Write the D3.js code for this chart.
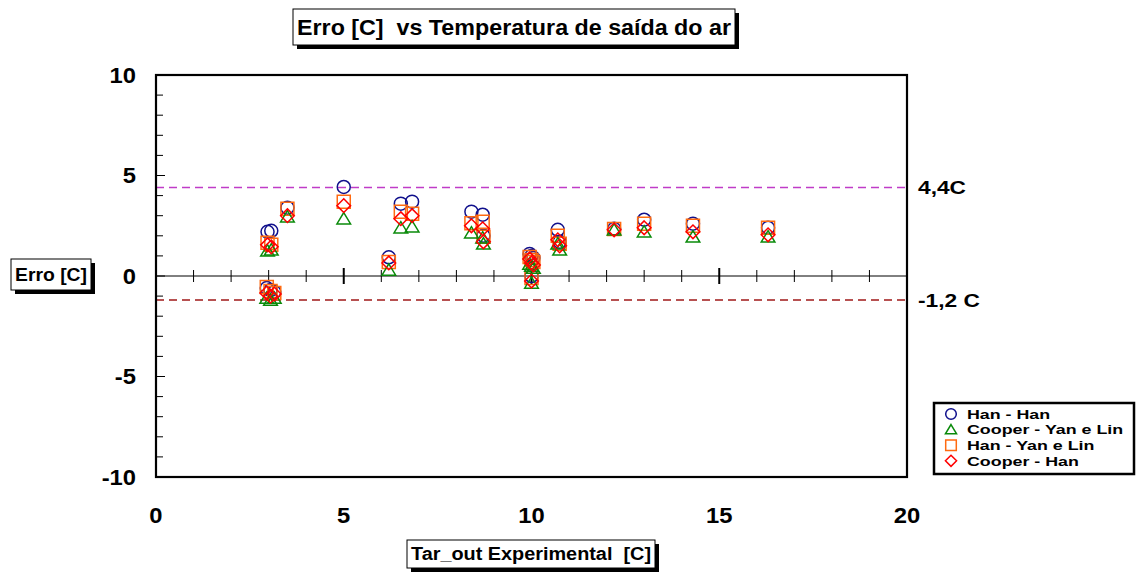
<!DOCTYPE html>
<html><head><meta charset="utf-8">
<script src="https://cdn.jsdelivr.net/npm/d3@7"></script>
<style>body{margin:0;background:#fff;} svg{display:block;font-family:"Liberation Sans",Arial,sans-serif;font-weight:bold;} text{white-space:pre;}</style>
</head><body>
<svg id="c" width="1138" height="572"></svg>
<script>
// ---- data ----
const xValues      = [2.97, 3.07, 2.95, 3.05, 3.15, 3.5, 5.0, 6.2, 6.52, 6.82, 8.4, 8.7, 8.72, 9.95, 10.0, 10.05, 10.0, 10.7, 10.75, 12.2, 13.0, 14.3, 16.3];
const hanHan       = [2.2, 2.25, -0.6, -0.7, -0.8, 3.4, 4.43, 0.93, 3.6, 3.7, 3.2, 3.05, 2.0, 1.1, 1.0, 0.9, 0.0, 2.3, 1.7, 2.35, 2.8, 2.6, 2.4];
const cooperYanLin = [1.25, 1.3, -1.1, -1.2, -1.1, 2.95, 2.85, 0.3, 2.4, 2.45, 2.15, 1.9, 1.6, 0.6, 0.5, 0.4, -0.35, 1.6, 1.3, 2.3, 2.2, 1.95, 1.95];
const hanYanLin    = [1.65, 1.55, -0.55, -0.75, -0.85, 3.35, 3.7, 0.7, 3.2, 3.1, 2.63, 2.7, 1.95, 0.95, 0.8, 0.7, -0.1, 2.0, 1.6, 2.34, 2.6, 2.5, 2.4];
const cooperHan    = [1.55, 1.45, -0.85, -1.0, -0.9, 3.0, 3.5, 0.65, 2.85, 3.0, 2.5, 2.35, 1.7, 0.85, 0.65, 0.55, -0.25, 1.8, 1.5, 2.3, 2.4, 2.2, 2.05];
const seriesNames  = ["Han - Han", "Cooper - Yan e Lin", "Han - Yan e Lin", "Cooper - Han"];
const xTicks = [0, 5, 10, 15, 20];
const yTicks = [-10, -5, 0, 5, 10];
const refLines = [4.4, -1.2];
const refLabels = ["4,4C", "-1,2 C"];
const titleText = "Erro [C]  vs Temperatura de saída do ar";
const xLabel = "Tar_out Experimental  [C]";
const yLabel = "Erro [C]";

// ---- layout ----
const svg = d3.select("#c");
const L = 156, R = 907, T = 75, B = 477;
const x = d3.scaleLinear().domain([0, 20]).range([L, R]);
const y = d3.scaleLinear().domain([-10, 10]).range([B, T]);

// custom marker shapes (s = half size)
const shapes = {
  circle: s => { const p = d3.path(); p.arc(0, 0, s, 0, 2 * Math.PI); return p.toString(); },
  triangle: s => `M0,${-s * 0.95}L${s * 1.05},${s * 0.8}L${-s * 1.05},${s * 0.8}Z`,
  square: s => `M${-s},${-s}H${s}V${s}H${-s}Z`,
  diamond: s => `M0,${-s * 1.05}L${s * 1.05},0L0,${s * 1.05}L${-s * 1.05},0Z`
};
const styles = [
  {shape: "circle", color: "#10108c", data: hanHan},
  {shape: "triangle", color: "#0a8a0a", data: cooperYanLin},
  {shape: "square", color: "#ff6a10", data: hanYanLin},
  {shape: "diamond", color: "#ff0000", data: cooperHan}
];

// stretch text horizontally by factor k
function stretch(sel, k) {
  sel.each(function () {
    const len = this.getComputedTextLength();
    d3.select(this).attr("textLength", len * k).attr("lengthAdjust", "spacingAndGlyphs");
  });
  return sel;
}

// boxed label helper
function box(x0, y0, w, h, text, fs, tw) {
  svg.append("rect").attr("x", x0 + 4).attr("y", y0 + 4).attr("width", w).attr("height", h).attr("fill", "#000");
  svg.append("rect").attr("x", x0).attr("y", y0).attr("width", w).attr("height", h).attr("fill", "#fff").attr("stroke", "#000").attr("stroke-width", 1);
  svg.append("text").attr("x", x0 + w / 2).attr("y", y0 + h / 2).attr("dy", "0.36em").attr("text-anchor", "middle")
    .attr("font-size", fs).attr("textLength", tw).attr("lengthAdjust", "spacingAndGlyphs").text(text);
}

// reference dashed lines
const refColors = ["#c03cc8", "#a01818"];
const refWidths = [48, 62];
refLines.forEach((v, i) => {
  svg.append("line").attr("x1", L).attr("x2", R).attr("y1", y(v)).attr("y2", y(v))
    .attr("stroke", refColors[i]).attr("stroke-width", 1.5).attr("stroke-dasharray", "8,5");
  svg.append("text").attr("x", 918).attr("y", y(v)).attr("dy", "0.36em").attr("font-size", 18)
    .attr("textLength", refWidths[i]).attr("lengthAdjust", "spacingAndGlyphs").text(refLabels[i]);
});

// zero line with ticks
svg.append("line").attr("x1", L).attr("x2", R).attr("y1", y(0)).attr("y2", y(0)).attr("stroke", "#000").attr("stroke-width", 1);
d3.range(1, 20).forEach(t => {
  const major = t % 5 === 0;
  svg.append("line").attr("x1", x(t)).attr("x2", x(t)).attr("y1", y(0) - (major ? 8 : 6)).attr("y2", y(0) + (major ? 8 : 6))
    .attr("stroke", "#000").attr("stroke-width", major ? 2 : 1);
});

// left axis inward ticks
d3.range(-9, 10).forEach(t => {
  svg.append("line").attr("x1", L).attr("x2", L + (t % 5 === 0 ? 9 : 7)).attr("y1", y(t)).attr("y2", y(t))
    .attr("stroke", "#000").attr("stroke-width", 1);
});

// frame
svg.append("rect").attr("x", L).attr("y", T).attr("width", R - L).attr("height", B - T)
  .attr("fill", "none").attr("stroke", "#000").attr("stroke-width", 2.2);

// tick labels
stretch(svg.append("g").selectAll("text").data(yTicks).join("text")
  .attr("x", 136).attr("y", d => y(d)).attr("dy", "0.36em").attr("text-anchor", "end").attr("font-size", 22).text(d => d), 1.08);
stretch(svg.append("g").selectAll("text").data(xTicks).join("text")
  .attr("x", d => x(d)).attr("y", 515).attr("dy", "0.36em").attr("text-anchor", "middle").attr("font-size", 22).text(d => d), 1.08);

// points: circle, square, triangle, diamond order
const drawOrder = [0, 2, 1, 3];
drawOrder.forEach(si => {
  const s = styles[si];
  svg.append("g").selectAll("path").data(s.data).join("path")
    .attr("d", shapes[s.shape](6.5))
    .attr("transform", (d, i) => `translate(${x(xValues[i])},${y(d)})`)
    .attr("fill", "none").attr("stroke", s.color).attr("stroke-width", 1.5);
});

// titles
box(293, 9, 442, 36, titleText, 22, 434);
box(11, 259, 80, 31, yLabel, 18, 72);
box(407, 540, 248, 28, xLabel, 18, 240);

// legend
svg.append("rect").attr("x", 934).attr("y", 403).attr("width", 200).attr("height", 71)
  .attr("fill", "#fff").attr("stroke", "#000").attr("stroke-width", 2.5);
seriesNames.forEach((n, i) => {
  const s = styles[i];
  const cy = 414 + i * 15.6;
  svg.append("path").attr("d", shapes[s.shape](5.3))
    .attr("transform", `translate(951,${cy})`).attr("fill", "none").attr("stroke", s.color).attr("stroke-width", 1.5);
  stretch(svg.append("text").attr("x", 967).attr("y", cy).attr("dy", "0.36em").attr("font-size", 13.5).text(n), 1.32);
});
</script>
</body></html>
